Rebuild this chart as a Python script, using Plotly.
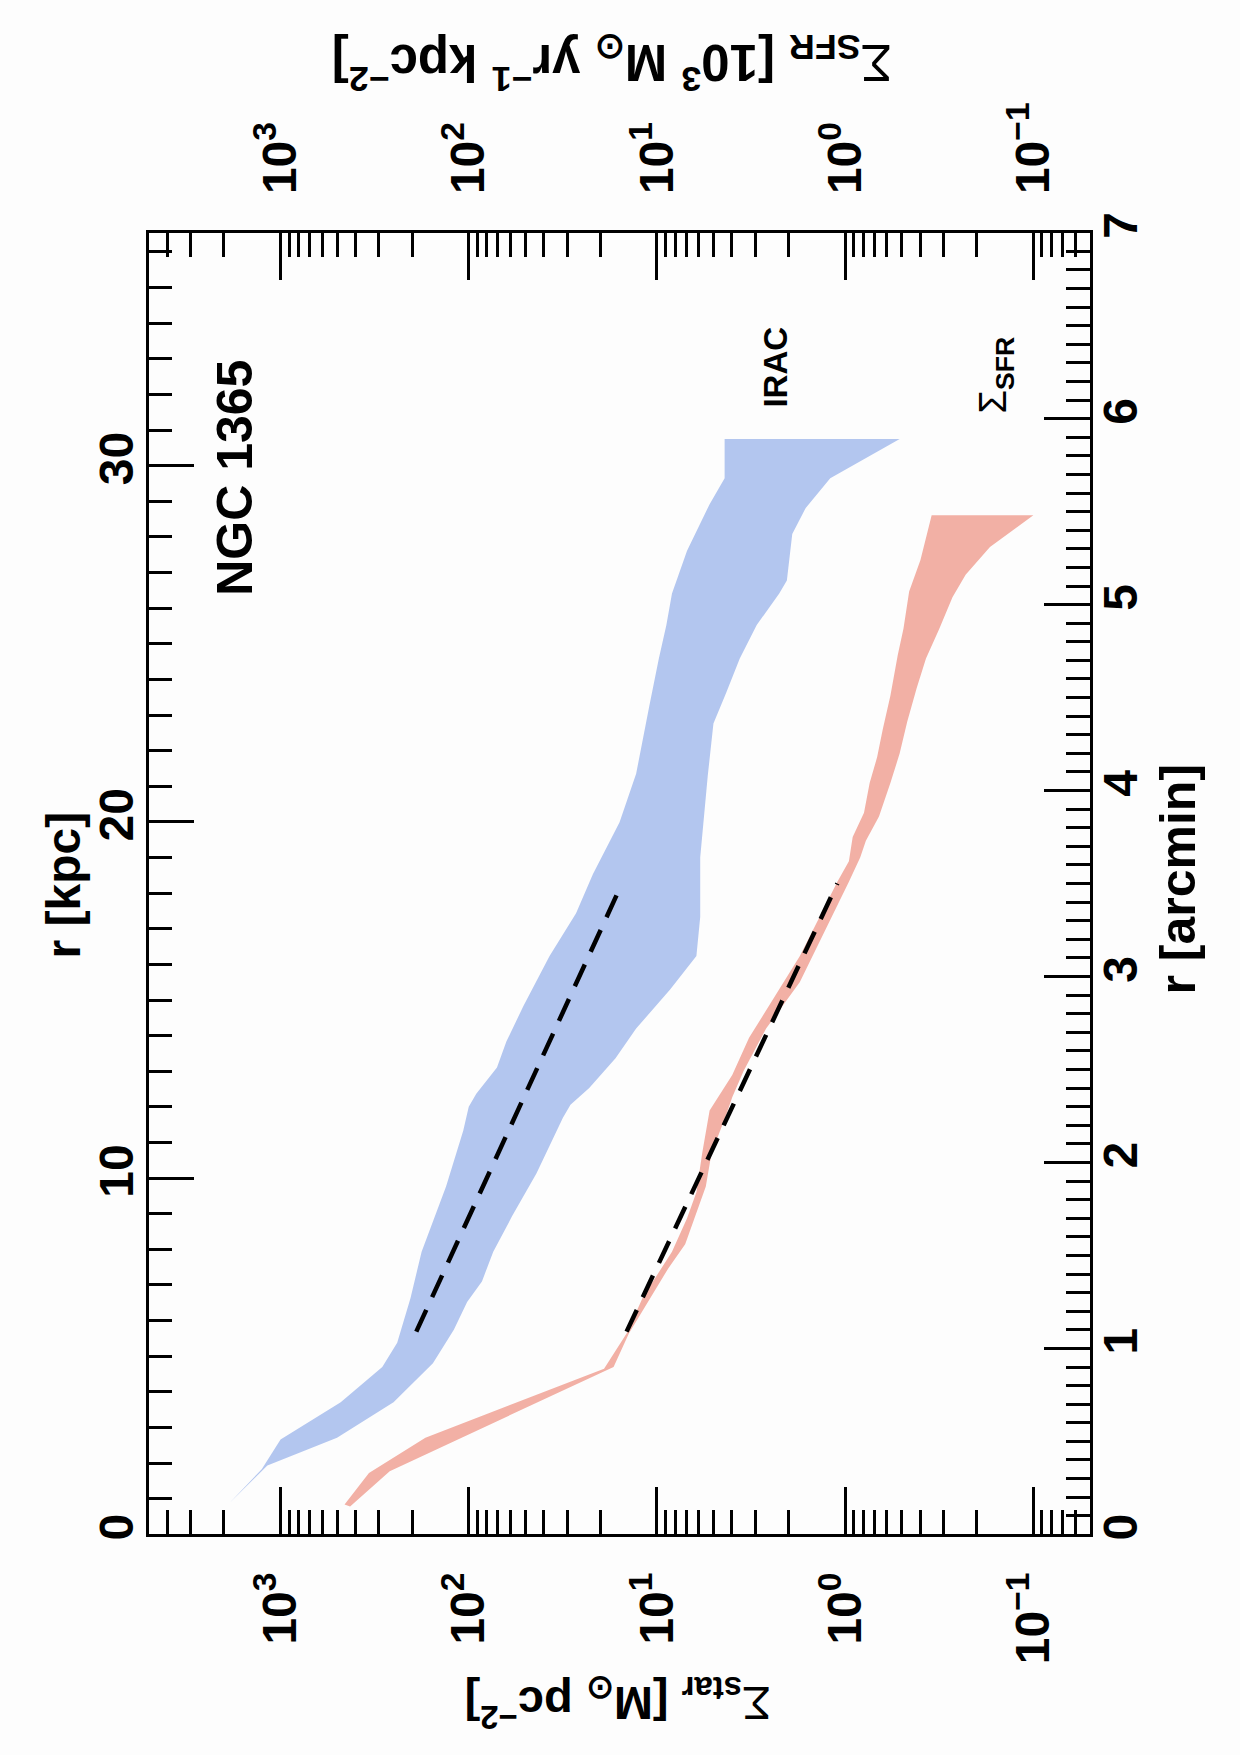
import plotly.graph_objects as go

KPC_PER_ARCMIN = 5.22

# IRAC stellar surface density band (M_sun pc^-2) vs r [arcmin]
irac_r_upper = [0.17, 0.35, 0.51, 0.71, 0.90, 1.03, 1.27, 1.52, 1.87, 2.17, 2.30, 2.37, 2.51, 2.65,
                2.84, 3.11, 3.34, 3.55, 3.83, 4.09, 4.45, 4.71, 4.89, 5.06, 5.29, 5.54, 5.68, 5.89]
irac_upper = [1862, 1259, 1000, 479, 288, 240, 204, 178, 132, 107, 100, 91.2, 70.8, 63.1,
              51.3, 37.2, 26.9, 21.9, 15.8, 12.9, 11.0, 9.77, 8.91, 8.32, 6.92, 5.25, 4.37, 4.37]
irac_r_lower = [0.17, 0.37, 0.52, 0.71, 0.92, 1.10, 1.25, 1.36, 1.52, 1.71, 1.94, 2.24, 2.31, 2.40,
                2.56, 2.72, 2.93, 3.11, 3.32, 3.64, 4.08, 4.36, 4.53, 4.71, 4.89, 5.06, 5.13, 5.38,
                5.52, 5.68, 5.89]
irac_lower = [1862, 1175, 501, 251, 155, 120, 102, 85.1, 74.1, 58.9, 43.7, 31.6, 28.8, 22.9,
              16.6, 12.9, 8.51, 6.17, 5.89, 5.89, 5.37, 5.01, 4.27, 3.63, 2.95, 2.24, 2.04, 1.91,
              1.62, 1.20, 0.513]

# Sigma_SFR band (10^3 M_sun yr^-1 kpc^-2) vs r [arcmin]
sfr_r_upper = [0.16, 0.33, 0.52, 0.89, 1.08, 1.29, 1.36, 1.52, 1.70, 1.84, 2.05, 2.28, 2.47, 2.67,
               3.11, 3.51, 3.62, 3.75, 3.88, 4.04, 4.18, 4.33, 4.51, 4.73, 4.87, 5.07, 5.24, 5.48]
sfr_upper = [457, 339, 170, 19.1, 14.5, 11.7, 10.5, 8.32, 6.92, 6.17, 5.75, 5.25, 3.98, 3.24,
             1.74, 1.10, 0.955, 0.912, 0.794, 0.741, 0.676, 0.631, 0.575, 0.525, 0.490, 0.457,
             0.398, 0.347]
sfr_r_lower = [0.15, 0.34, 0.90, 1.08, 1.25, 1.43, 1.56, 1.76, 1.87, 2.05, 2.26, 2.35, 2.49, 2.72,
               2.97, 3.51, 3.64, 3.73, 3.86, 4.04, 4.20, 4.37, 4.55, 4.71, 4.87, 5.04, 5.16, 5.31,
               5.48]
sfr_lower = [427, 263, 17.0, 14.1, 11.2, 8.71, 7.08, 6.03, 5.50, 5.13, 4.27, 3.98, 3.47, 2.63,
             1.74, 0.955, 0.832, 0.776, 0.661, 0.575, 0.513, 0.468, 0.417, 0.372, 0.316, 0.269,
             0.229, 0.170, 0.100]

# exponential-disc fits (dashed)
fit_irac_r = [1.09, 3.49]
fit_irac = [190, 15.5]
fit_sfr_r = [1.09, 3.50]
fit_sfr = [14.5, 1.10]

# axis ticks
log_major_vals = [0.1, 1, 10, 100, 1000]
log_major_text = ["10<sup>−1</sup>", "10<sup>0</sup>", "10<sup>1</sup>", "10<sup>2</sup>", "10<sup>3</sup>"]
arcmin_ticks = [0, 1, 2, 3, 4, 5, 6, 7]
kpc_ticks = [0, 10, 20, 30]

log_minor_vals = []
for k in range(-2, 4):
    for d in range(2, 10):
        v = d * 10 ** k
        if 0.05 <= v <= 5000:
            log_minor_vals.append(v)

W, H = 1240, 1755
FONT = "Liberation Sans"
BLUE = "#b3c6ef"
RED = "#f2b0a5"
DASH = "24px,14px"

fig = go.Figure()
fig.add_trace(go.Scatter(
    x=irac_upper + irac_lower[::-1], y=irac_r_upper + irac_r_lower[::-1],
    fill="toself", fillcolor=BLUE, mode="lines", line=dict(width=0, color=BLUE),
    hoverinfo="skip", showlegend=False))
fig.add_trace(go.Scatter(
    x=sfr_upper + sfr_lower[::-1], y=sfr_r_upper + sfr_r_lower[::-1],
    fill="toself", fillcolor=RED, mode="lines", line=dict(width=0, color=RED),
    hoverinfo="skip", showlegend=False))
fig.add_trace(go.Scatter(x=fit_irac, y=fit_irac_r, mode="lines",
                         line=dict(color="black", width=4.5, dash=DASH), showlegend=False))
fig.add_trace(go.Scatter(x=fit_sfr, y=fit_sfr_r, mode="lines",
                         line=dict(color="black", width=4.5, dash=DASH), showlegend=False))
# anchor trace so the top and left (kpc) axes are drawn
fig.add_trace(go.Scatter(x=[1], y=[1], xaxis="x2", yaxis="y2", mode="markers",
                         marker=dict(opacity=0), hoverinfo="skip", showlegend=False))

xdom = [149 / W, 1090 / W]
ydom = [1 - 1537 / H, 1 - 215 / H]
tickfont = dict(family=FONT, size=48, color="black", weight="bold")

common_log = dict(type="log", range=[3.69897, -1.30103], tickmode="array",
                  tickvals=log_major_vals, ticktext=log_major_text,
                  ticks="inside", ticklen=47, tickwidth=2.5, tickcolor="black",
                  showline=True, linewidth=3, linecolor="black", tickangle=-90,
                  tickfont=tickfont, showgrid=False, zeroline=False,
                  minor=dict(tickmode="array", tickvals=log_minor_vals, ticks="inside",
                             ticklen=24, tickwidth=2.5, tickcolor="black", showgrid=False))

fig.update_layout(
    width=W, height=H,
    margin=dict(l=0, r=0, t=0, b=0),
    paper_bgcolor="#fdfdfd", plot_bgcolor="#fdfdfd",
    showlegend=False,
    xaxis=dict(domain=xdom, anchor="y", side="bottom", ticklabelstandoff=16, **common_log),
    xaxis2=dict(domain=xdom, anchor="y", side="top", overlaying="x", ticklabelstandoff=26,
                **common_log),
    yaxis=dict(domain=ydom, anchor="x", side="right", range=[0, 7],
               tickmode="array", tickvals=arcmin_ticks, ticks="inside", ticklen=46,
               tickwidth=2.5, tickcolor="black", showline=True, linewidth=3,
               linecolor="black", tickangle=-90, tickfont=tickfont, showgrid=False,
               zeroline=False, ticklabelstandoff=-14,
               minor=dict(tickmode="linear", tick0=0, dtick=0.1, ticks="inside",
                          ticklen=24, tickwidth=2.5, tickcolor="black", showgrid=False)),
    yaxis2=dict(domain=ydom, anchor="x", side="left", overlaying="y",
                range=[0, 7 * KPC_PER_ARCMIN],
                tickmode="array", tickvals=kpc_ticks, ticks="inside", ticklen=45,
                tickwidth=2.5, tickcolor="black", showline=True, linewidth=3,
                linecolor="black", tickangle=-90, tickfont=tickfont, showgrid=False,
                zeroline=False, ticklabelstandoff=-6,
                minor=dict(tickmode="linear", tick0=0, dtick=1, ticks="inside",
                           ticklen=23, tickwidth=2.5, tickcolor="black", showgrid=False)),
)

def px(x, y):
    return dict(x=x / W, y=1 - y / H, xref="paper", yref="paper",
                xanchor="center", yanchor="middle", showarrow=False)

bold = dict(family=FONT, color="black", weight="bold")
sig = "<span style='font-weight:normal'>Σ</span>"
anns = [
    dict(text="r [kpc]", textangle=-90, font=dict(size=48, **bold), **px(63, 878)),
    dict(text="r [arcmin]", textangle=-90, font=dict(size=50, **bold), **px(1178, 872)),
    dict(text=sig + "<sub>SFR</sub> [10<sup>3</sup> M<sub>⊙</sub> yr<sup>−1</sup> kpc<sup>−2</sup>]",
         textangle=180, font=dict(size=51, **bold), **px(612, 42)),
    dict(text=sig + "<sub>star</sub> [M<sub>⊙</sub> pc<sup>−2</sup>]",
         textangle=180, font=dict(size=47, **bold), **px(618, 1708)),
    dict(text="NGC 1365", textangle=-90, font=dict(size=50, **bold), **px(235, 464)),
    dict(text="IRAC", textangle=-90, font=dict(size=33, **bold), **px(776, 352)),
    dict(text=sig + "<sub>SFR</sub>", textangle=-90, font=dict(size=38, **bold), **px(996, 360)),
]
fig.update_layout(annotations=anns)

fig.write_html("out.html")
